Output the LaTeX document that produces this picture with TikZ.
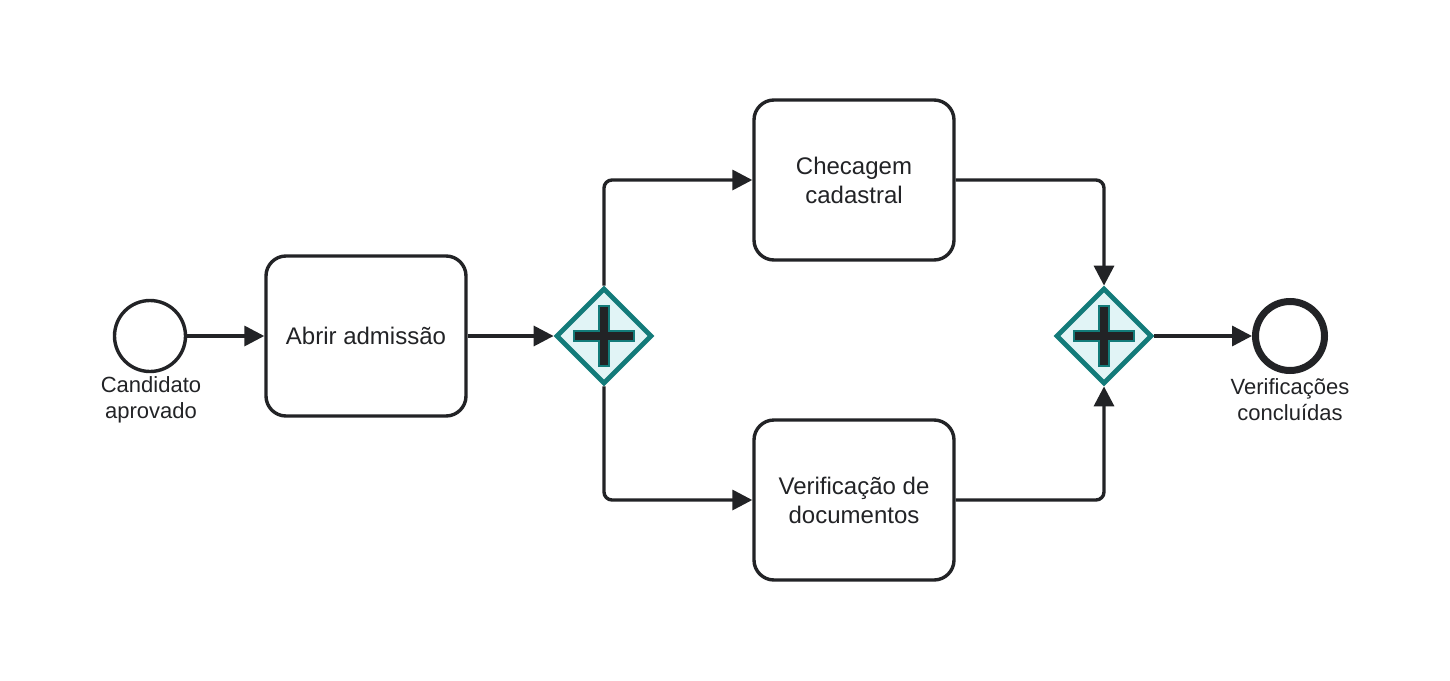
\documentclass[tikz,border=0pt]{standalone}
\usepackage{fontspec}
\setmainfont{Liberation Sans}
\usetikzlibrary{arrows.meta,shapes.geometric}

\definecolor{ink}{HTML}{222326}
\definecolor{gwline}{HTML}{137B7A}
\definecolor{gwfill}{HTML}{E1F4F6}

\tikzset{
  task/.style={draw=ink, line width=1.7pt, rounded corners=10pt, fill=white,
    minimum width=100pt, minimum height=80pt, align=center, text=ink,
    font=\fontsize{12}{14.5}\selectfont},
  startevent/.style={circle, draw=ink, line width=1.7pt, fill=white,
    minimum size=35.5pt, inner sep=0pt},
  endevent/.style={circle, draw=ink, line width=3.5pt, fill=white,
    minimum size=34.5pt, inner sep=0pt},
  gateway/.style={diamond, draw=gwline, line width=2.4pt, fill=gwfill,
    minimum width=48pt, minimum height=48pt, inner sep=0pt},
  evlabel/.style={align=center, text=ink, font=\fontsize{11}{13}\selectfont},
  flow/.style={draw=ink, line width=1.7pt, rounded corners=4pt,
    -{Triangle[length=10pt,width=10pt]}}
}

\begin{document}
\begin{tikzpicture}[x=0.5pt,y=-0.5pt]
  \useasboundingbox[fill=white] (0,0) rectangle (1450,680);

  % events
  \node[startevent] (start) at (150,336) {};
  \node[evlabel] (startlbl) at (151,400) {Candidato\\aprovado};
  \node[endevent] (end) at (1290,336) {};
  \node[evlabel] (endlbl) at (1290,400) {Verificações\\concluídas};

  % tasks
  \node[task] (abrir) at (366,336) {Abrir admissão};
  \node[task] (checa) at (854,180) {Checagem\\cadastral};
  \node[task] (verif) at (854,500) {Verificação de\\documentos};

  % parallel gateways
  \node[gateway] (split) at (604,336) {};
  \node[gateway] (join) at (1104,336) {};
  \foreach \g in {split,join}{
    \draw[gwline, line width=0.8pt, fill=ink, shift={(\g.center)}]
      (-5,-30) -- (5,-30) -- (5,-5) -- (30,-5) -- (30,5) -- (5,5)
      -- (5,30) -- (-5,30) -- (-5,5) -- (-30,5) -- (-30,-5) -- (-5,-5) -- cycle;
  }

  % sequence flows
  \draw[flow] (start) -- (abrir);
  \draw[flow] (abrir) -- (split);
  \draw[flow] (split.north) |- (checa.west);
  \draw[flow] (split.south) |- (verif.west);
  \draw[flow] (checa.east) -| (join.north);
  \draw[flow] (verif.east) -| (join.south);
  \draw[flow] (join) -- (end);
\end{tikzpicture}
\end{document}
